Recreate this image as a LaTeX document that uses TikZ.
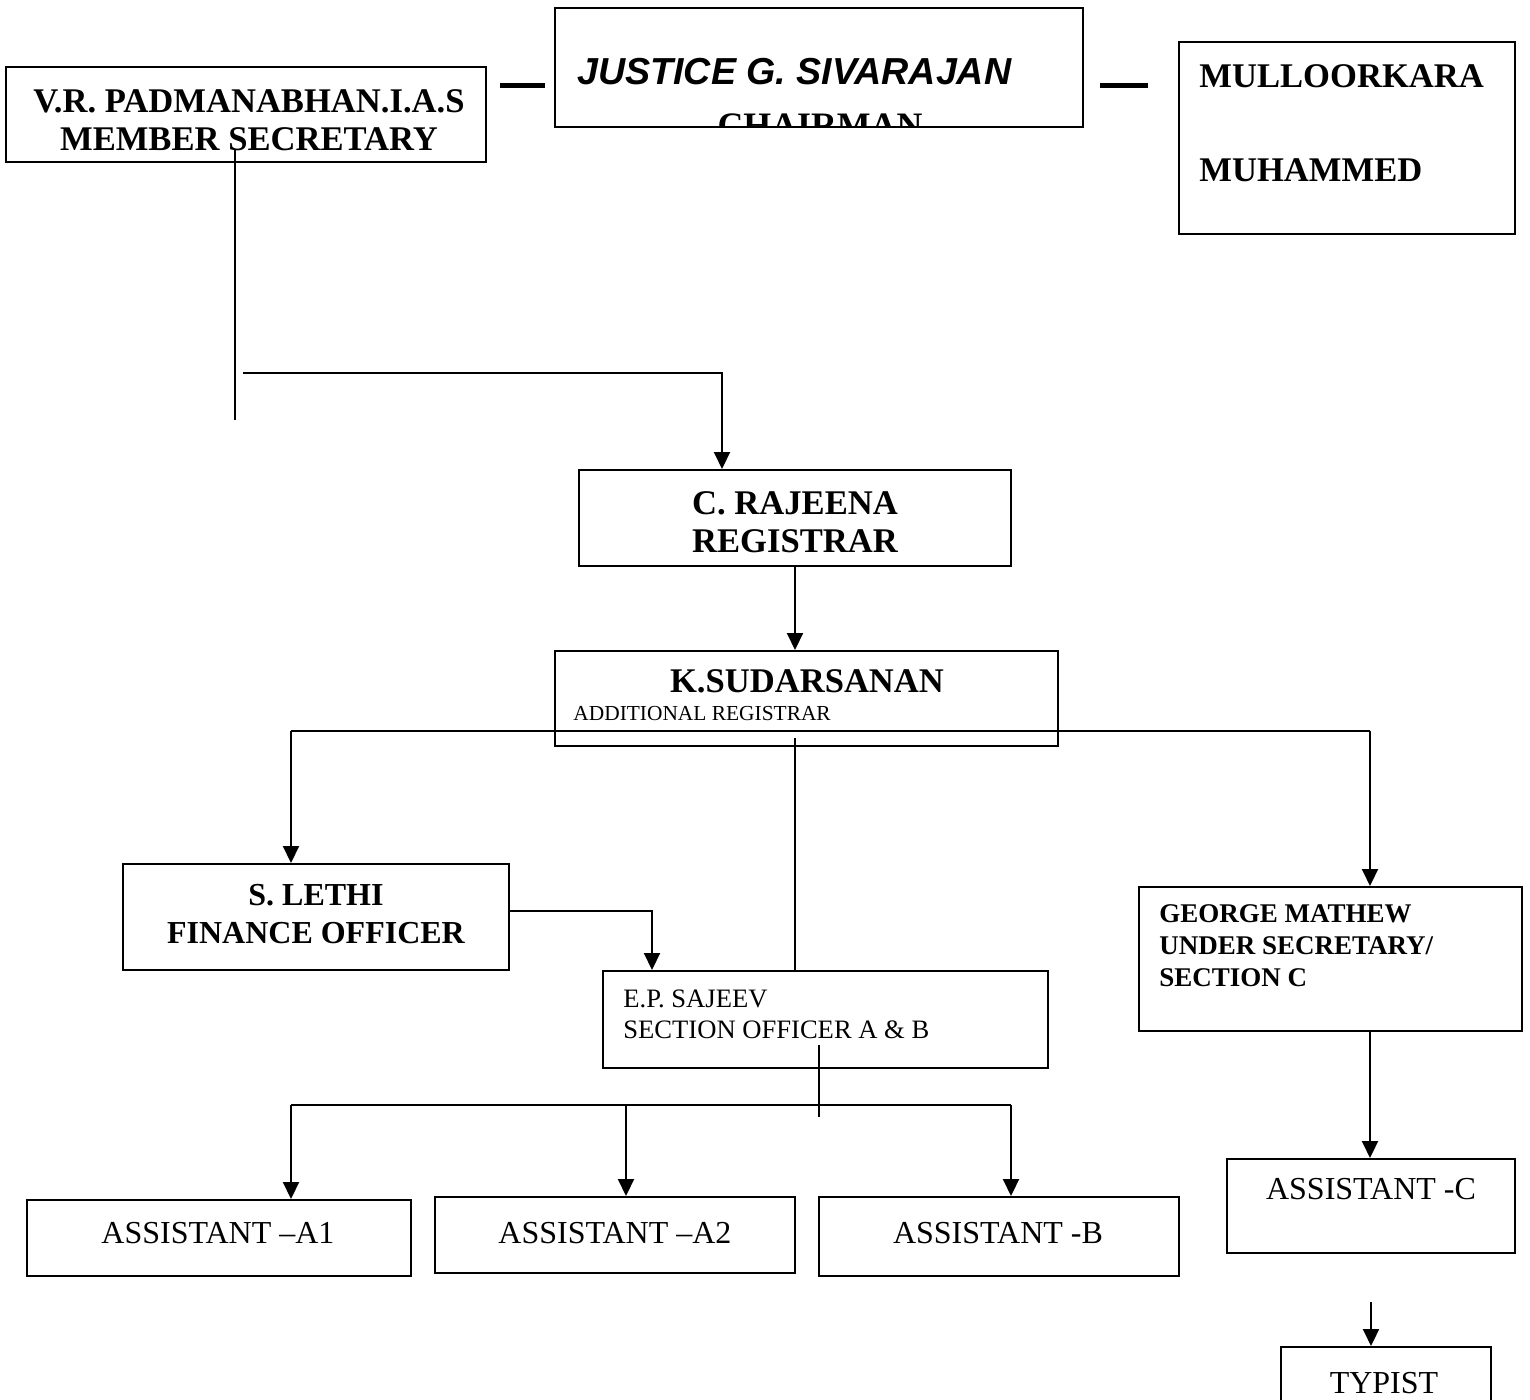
\documentclass[tikz,border=0pt]{standalone}
\usepackage{fontspec}
\setmainfont{Liberation Serif}
\newfontfamily\arialfont{Liberation Sans}
\usetikzlibrary{arrows.meta,fit}
\begin{document}
\begin{tikzpicture}[x=0.5pt,y=-0.5pt,
  box/.style={draw,line width=1pt,inner sep=0pt},
  conn/.style={line width=1pt},
  arr/.style={line width=1pt,-{Triangle[width=8pt,length=8.5pt]}},
  dashbar/.style={line width=2.5pt},
  bigb/.style={font=\fontsize{16}{19}\selectfont\bfseries,align=center,inner sep=0pt},
  bigbx/.style={font=\fontsize{17.3}{19}\selectfont\bfseries,align=center,inner sep=0pt},
  bigbl/.style={font=\fontsize{17.3}{19}\selectfont\bfseries,align=left,inner sep=0pt,anchor=west},
  midb/.style={font=\fontsize{13.5}{16}\selectfont\bfseries,align=left,inner sep=0pt,anchor=west},
  midr/.style={font=\fontsize{13.3}{15.5}\selectfont,align=left,inner sep=0pt,anchor=west},
  asst/.style={font=\fontsize{16}{19}\selectfont,inner sep=0pt}]
\useasboundingbox (0,0) rectangle (1530,1399);
\clip (0,0) rectangle (1530,1399);
\fill[white] (0,0) rectangle (1530,1399);

% top row
\node[box,fit={(6,67) (486,162)}] (pad) {};
\node[bigbx] (padt) at (249,120) {V.R. PADMANABHAN.I.A.S\\MEMBER SECRETARY};

\node[box,fit={(555,8) (1083,127)}] (jus) {};
\begin{scope}
  \clip (555,8) rectangle (1083,127);
  \node[font=\arialfont\fontsize{18.8}{21}\selectfont\bfseries\itshape,inner sep=0pt,anchor=west] (just) at (577,72) {JUSTICE G. SIVARAJAN};
  \node[font=\fontsize{17.9}{20}\selectfont\bfseries,inner sep=0pt] (chair) at (820,126) {CHAIRMAN};
\end{scope}

\node[box,fit={(1179,42) (1515,234)}] (mul) {};
\node[bigbl] (mul1) at (1199,76) {MULLOORKARA};
\node[bigbl] (mul2) at (1199,170) {MUHAMMED};

\coordinate (d1a) at (500,85); \coordinate (d1b) at (545,85);
\coordinate (d2a) at (1100,85); \coordinate (d2b) at (1148,85);
\draw[dashbar] (d1a) -- (d1b);
\draw[dashbar] (d2a) -- (d2b);

% registrar
\node[box,fit={(579,470) (1011,566)}] (raj) {};
\node[bigbx] (rajt) at (795,522) {C. RAJEENA\\REGISTRAR};

\node[box,fit={(555,651) (1058,746)}] (sud) {};
\node[font=\fontsize{17.3}{19}\selectfont\bfseries,inner sep=0pt] (sudt) at (807,681) {K.SUDARSANAN};
\node[font=\fontsize{10.7}{12}\selectfont,inner sep=0pt,anchor=west] (sudr) at (573,714) {ADDITIONAL REGISTRAR};

\node[box,fit={(123,864) (509,970)}] (leth) {};
\node[bigb] (letht) at (316,914) {S. LETHI\\FINANCE OFFICER};

\node[box,fit={(603,971) (1048,1068)}] (ep) {};
\node[midr] (ept) at (623,1014) {E.P. SAJEEV\\SECTION OFFICER A \& B};

\node[box,fit={(1139,887) (1522,1031)}] (geo) {};
\node[midb] (geot) at (1159,946) {GEORGE MATHEW\\UNDER SECRETARY/\\SECTION C};

\node[box,fit={(27,1200) (411,1276)}] (a1) {};
\node[asst] (a1t) at (218,1233) {ASSISTANT –A1};
\node[box,fit={(435,1197) (795,1273)}] (a2) {};
\node[asst] (a2t) at (615,1233) {ASSISTANT –A2};
\node[box,fit={(819,1197) (1179,1276)}] (ab) {};
\node[asst] (abt) at (998,1233) {ASSISTANT -B};

\node[box,fit={(1227,1159) (1515,1253)}] (ac) {};
\node[asst] (act) at (1371,1189) {ASSISTANT -C};

\node[box,fit={(1281,1347) (1491,1430)}] (typ) {};
\node[asst] (typt) at (1384,1383) {TYPIST};

% connectors
\coordinate (p1) at (235,150);
\coordinate (p2) at (235,420);
\draw[conn] (p1) -- (p2);
\coordinate (h1) at (243,373);
\coordinate (rx) at (722,0);
\draw[arr] (h1) -| (raj.north -| rx);

\draw[arr] (raj.south) -- (raj.south |- sud.north);

\coordinate (bl) at (291,731);
\coordinate (br) at (1370,731);
\draw[conn] (bl) -- (br);
\draw[arr] (bl) -- (bl |- leth.north);
\draw[arr] (br) -- (br |- geo.north);

\coordinate (sv) at (795,738);
\draw[conn] (sv) -- (sv |- ep.north);

\coordinate (lx) at (652,0);
\coordinate (lo) at (509,911);
\draw[arr] (lo) -| (ep.north -| lx);

\coordinate (ev) at (819,1045);
\coordinate (eb) at (819,1117);
\draw[conn] (ev) -- (eb);
\coordinate (al) at (291,1105);
\coordinate (am) at (626,1105);
\coordinate (ar) at (1011,1105);
\draw[conn] (al) -- (ar);
\draw[arr] (al) -- (al |- a1.north);
\draw[arr] (am) -- (am |- a2.north);
\draw[arr] (ar) -- (ar |- ab.north);

\coordinate (gx) at (1370,0);
\draw[arr] (geo.south -| gx) -- (ac.north -| gx);

\coordinate (ts) at (1371,1302);
\draw[arr] (ts) -- (ts |- typ.north);
\end{tikzpicture}
\end{document}
